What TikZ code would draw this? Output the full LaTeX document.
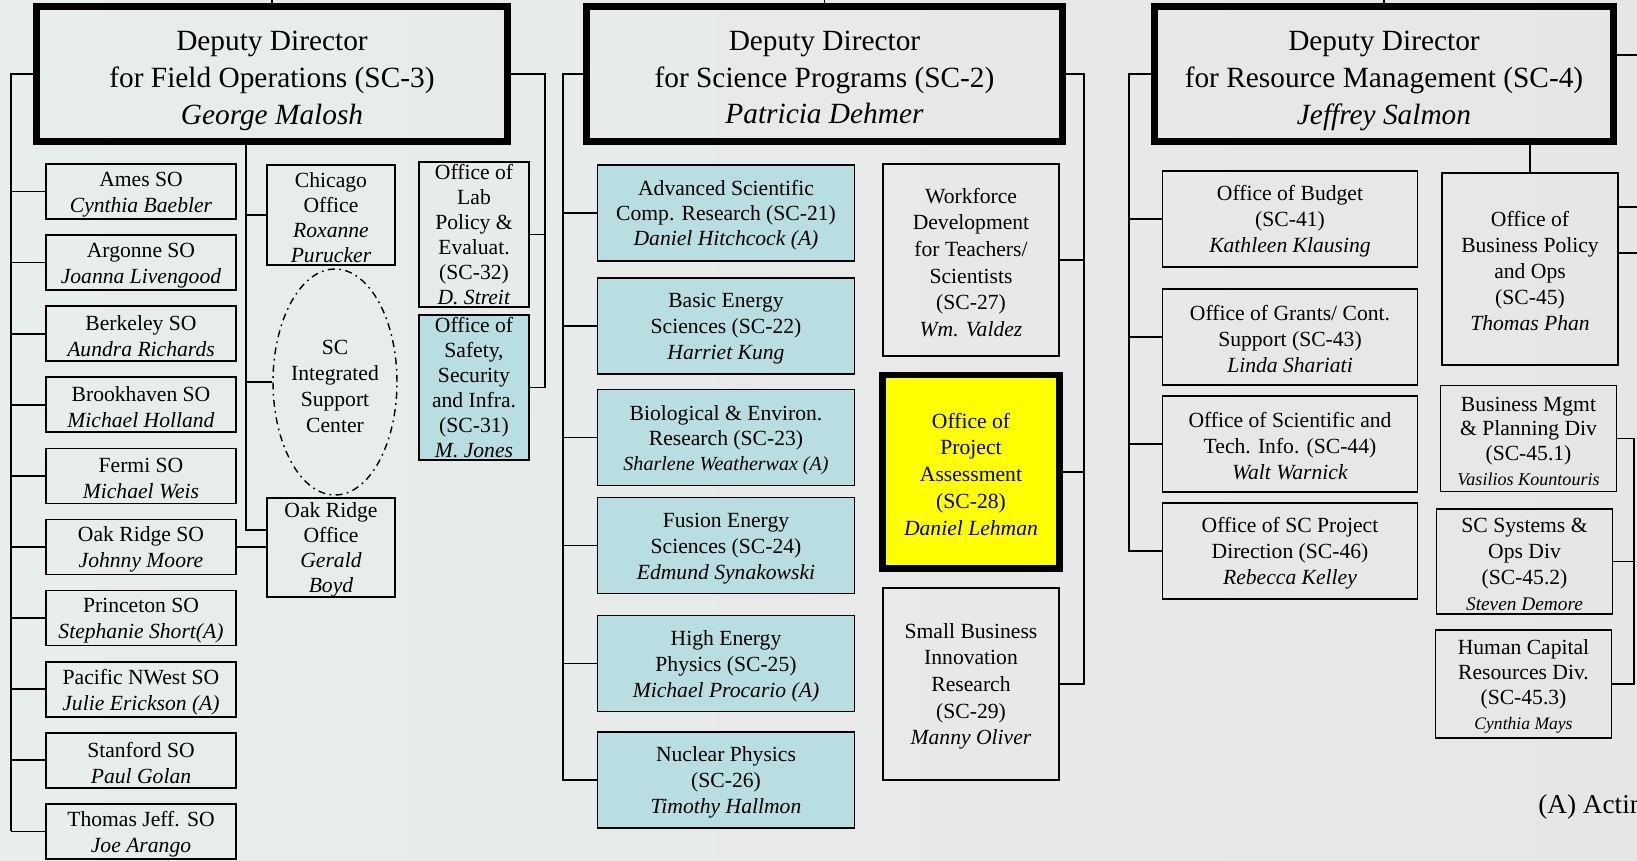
\documentclass[tikz,border=0pt]{standalone}
\usepackage{fontspec}
\setmainfont{Liberation Serif}
\usepackage{tikz}
\usetikzlibrary{positioning,shapes.geometric}

\definecolor{bgleft}{RGB}{232,238,235}
\definecolor{bgright}{RGB}{230,230,230}
\definecolor{sciblue}{RGB}{185,222,226}
\definecolor{payellow}{RGB}{255,255,0}

\newcommand{\ddsize}{\fontsize{16.7}{21}\selectfont}
\newcommand{\boxsize}{\fontsize{12.3}{14.8}\selectfont}
\newcommand{\tightsize}{\fontsize{12.3}{14.2}\selectfont}
% struts that push the first line down a little
\newcommand{\ddgap}{\rule{0pt}{18.6pt}}
\newcommand{\topgap}{\rule{0pt}{11.5pt}}

\begin{document}
\begin{tikzpicture}[
    x=0.02cm, y=-0.02cm,
    deputy/.style={
       draw=black,
       line width=4pt,
       minimum height=2.70cm,
       inner sep=0pt,
       outer sep=0pt,
       align=center,
       font=\ddsize},
    office/.style={
       draw=black,
       line width=1pt,
       inner sep=0pt,
       outer sep=0pt,
       align=center,
       font=\boxsize},
    fieldso/.style={office, minimum width=3.80cm, minimum height=1.10cm},
    science/.style={office, fill=sciblue, minimum width=5.14cm, minimum height=1.92cm},
    support/.style={office, minimum width=5.10cm, minimum height=1.92cm},
    division/.style={office, minimum width=3.52cm},
    link/.style={line width=1pt},
    node distance=0.3cm
    ]
    \useasboundingbox (0,0) rectangle (1637,861);
    \clip (0,0) rectangle (1637,861);
    \shade[left color=bgleft, right color=bgright] (0,0) rectangle (1637,861);

    % deputy directors
    \node[deputy, minimum width=9.42cm] (fo) at (272,74)
        {\ddgap Deputy Director\\for Field Operations (SC-3)\\\textit{George Malosh}};
    \node[deputy, minimum width=9.52cm] (sp) at (824.5,74)
        {\rule{0pt}{15pt}Deputy Director\\for Science Programs (SC-2)\\\textit{Patricia Dehmer}};
    \node[deputy, minimum width=9.18cm] (rm) at (1384,74)
        {\ddgap Deputy Director\\for Resource Management (SC-4)\\\textit{Jeffrey Salmon}};

    % site offices
    \foreach \site/\who [count=\i] in {Ames SO/Cynthia Baebler,
        Argonne SO/Joanna Livengood, Berkeley SO/Aundra Richards,
        Brookhaven SO/Michael Holland, Fermi SO/Michael Weis,
        Oak Ridge SO/Johnny Moore, Princeton SO/Stephanie Short(A),
        Pacific NWest SO/Julie Erickson (A), Stanford SO/Paul Golan,
        Thomas Jeff. SO/Joe Arango}
      \node[fieldso] (so\i) at (141,{191.5+71.1*(\i-1)}) {\topgap\site\\\textit{\who}};

    \node[office, font=\tightsize, minimum width=2.56cm, minimum height=2.00cm]
        (chicago) at (331,215) {\topgap Chicago\\Office\\\textit{Roxanne}\\\textit{Purucker}};
    \node[ellipse, draw=black, line width=0.8pt,
        dash pattern=on 4pt off 2.5pt on 1pt off 2.5pt,
        minimum width=2.48cm, minimum height=4.52cm, inner sep=0pt,
        align=center, font=\boxsize]
        (sisc) at (335,382) {\rule{0pt}{13pt}SC\\Integrated\\Support\\Center};
    \node[office, font=\tightsize, minimum width=2.56cm, minimum height=1.98cm]
        (oro) at (331,547.5) {\topgap Oak Ridge\\Office\\\textit{Gerald}\\\textit{Boyd}};
    \node[office, font=\tightsize, minimum width=2.20cm, minimum height=2.90cm]
        (olpe) at (474,234.5) {Office of\\Lab\\Policy \&\\Evaluat.\\(SC-32)\\\textit{D. Streit}};
    \node[office, font=\tightsize, fill=sciblue, minimum width=2.20cm,
        minimum height=2.90cm, below=0.16cm of olpe]
        (ossi) {Office of\\Safety,\\Security\\and Infra.\\(SC-31)\\\textit{M. Jones}};

    % science programs
    \node[science, font=\tightsize] (ascr) at (726,213)
        {\topgap Advanced Scientific\\Comp. Research (SC-21)\\\textit{Daniel Hitchcock (A)}};
    \node[science, below=0.34cm of ascr] (bes)
        {\topgap Basic Energy\\Sciences (SC-22)\\\textit{Harriet Kung}};
    \node[science, font=\tightsize, below=0.31cm of bes] (ber)
        {\topgap Biological \& Environ.\\Research (SC-23)\\{\fontsize{11.4}{13}\selectfont\textit{Sharlene Weatherwax (A)}}};
    \node[science, below=0.24cm of ber] (fes)
        {\topgap Fusion Energy\\Sciences (SC-24)\\\textit{Edmund Synakowski}};
    \node[science, below=0.44cm of fes] (hep)
        {\topgap High Energy\\Physics (SC-25)\\\textit{Michael Procario (A)}};
    \node[science, below=0.41cm of hep] (np)
        {\topgap Nuclear Physics\\(SC-26)\\\textit{Timothy Hallmon}};

    \node[office, minimum width=3.52cm, minimum height=3.84cm, font=\fontsize{12.3}{15.2}\selectfont]
        (wdts) at (971,260) {\topgap Workforce\\Development\\for Teachers/\\Scientists\\(SC-27)\\\textit{Wm. Valdez}};
    \node[office, fill=payellow, line width=3.7pt, minimum width=3.55cm,
        minimum height=3.87cm, font=\fontsize{12.3}{15.2}\selectfont, below=0.38cm of wdts]
        (opa) {\topgap Office of\\Project\\Assessment\\(SC-28)\\\textit{Daniel Lehman}};
    \node[office, minimum width=3.52cm, minimum height=3.84cm, font=\fontsize{12.3}{15.2}\selectfont,
        below=0.385cm of opa]
        (sbir) {\topgap Small Business\\Innovation\\Research\\(SC-29)\\\textit{Manny Oliver}};

    % resource management
    \node[support] (budget) at (1290,219)
        {\topgap Office of Budget\\(SC-41)\\\textit{Kathleen Klausing}};
    \node[support, below=0.44cm of budget] (grants)
        {\topgap Office of Grants/ Cont.\\Support (SC-43)\\\textit{Linda Shariati}};
    \node[support, below=0.22cm of grants] (sti)
        {\topgap Office of Scientific and\\Tech. Info. (SC-44)\\\textit{Walt Warnick}};
    \node[support, below=0.22cm of sti] (pd)
        {\topgap Office of SC Project\\Direction (SC-46)\\\textit{Rebecca Kelley}};

    \node[division, minimum height=3.84cm] (bp) at (1530,269)
        {\topgap Office of\\Business Policy\\and Ops\\(SC-45)\\\textit{Thomas Phan}};
    \node[division, minimum height=2.12cm, font=\tightsize] (bm) at (1528.5,438.5)
        {\topgap Business Mgmt\\\& Planning Div\\(SC-45.1)\\{\fontsize{10.3}{12}\selectfont\textit{Vasilios Kountouris}}};
    \node[division, minimum height=2.10cm] (scs) at (1524.5,561.5)
        {\topgap SC Systems \&\\Ops Div\\(SC-45.2)\\{\fontsize{11}{12}\selectfont\textit{Steven Demore}}};
    \node[division, minimum height=2.16cm, font=\tightsize] (hc) at (1523.5,684)
        {\topgap Human Capital\\Resources Div.\\(SC-45.3)\\{\fontsize{10}{12}\selectfont\textit{Cynthia Mays}}};

    \node[anchor=west, inner sep=0pt, font=\fontsize{15.5}{18}\selectfont]
        (acting) at (1538,807) {(A) Acting};

    % buses and free ends
    \coordinate (ceil) at (0,-3);
    \coordinate (edge) at (1645,0);
    \coordinate (fobus) at (11,0);
    \coordinate (fobusr) at (545,0);
    \coordinate (focb) at (246,530);
    \coordinate (spbus) at (563,0);
    \coordinate (spbusr) at (1084,0);
    \coordinate (rmbus) at (1129,0);
    \coordinate (bmbus) at (1634,0);

    \foreach \n in {fo,sp,rm}
      \draw[link] (\n.north) -- (\n.north |- ceil);

    \draw[link] (fo.west) -| (fobus |- so10.west);
    \foreach \i in {1,...,10}
      \draw[link] (so\i.west) -- (so\i.west -| fobus);
    \draw[link] (fo.south -| focb) -- (focb) -- (focb -| oro.west);
    \foreach \n in {chicago,sisc}
      \draw[link] (\n.west) -- (\n.west -| focb);
    \draw[link] (so6.east) -- (so6.east -| oro.west);
    \draw[link] (fo.east) -| (fobusr |- ossi.east) -- (ossi.east);
    \draw[link] (olpe.east) -- (olpe.east -| fobusr);

    \draw[link] (sp.west) -| (spbus |- np.west) -- (np.west);
    \foreach \n in {ascr,bes,ber,fes,hep}
      \draw[link] (\n.west) -- (\n.west -| spbus);
    \draw[link] (sp.east) -| (spbusr |- sbir.east) -- (sbir.east);
    \foreach \n in {wdts,opa}
      \draw[link] (\n.east) -- (\n.east -| spbusr);

    \draw[link] (rm.west) -| (rmbus |- pd.west) -- (pd.west);
    \foreach \n in {budget,grants,sti}
      \draw[link] (\n.west) -- (\n.west -| rmbus);
    \draw[link] (bp.north |- rm.south) -- (bp.north);
    \draw[link] ([yshift=0.38cm]rm.east) -- ([yshift=0.38cm]rm.east -| edge);
    \foreach \s in {1.24cm,0.32cm}
      \draw[link] ([yshift=\s]bp.east) -- ([yshift=\s]bp.east -| edge);
    \draw[link] (bm.east) -| (bmbus |- hc.east) -- (hc.east);
    \draw[link] (scs.east) -- (scs.east -| bmbus);
\end{tikzpicture}
\end{document}
